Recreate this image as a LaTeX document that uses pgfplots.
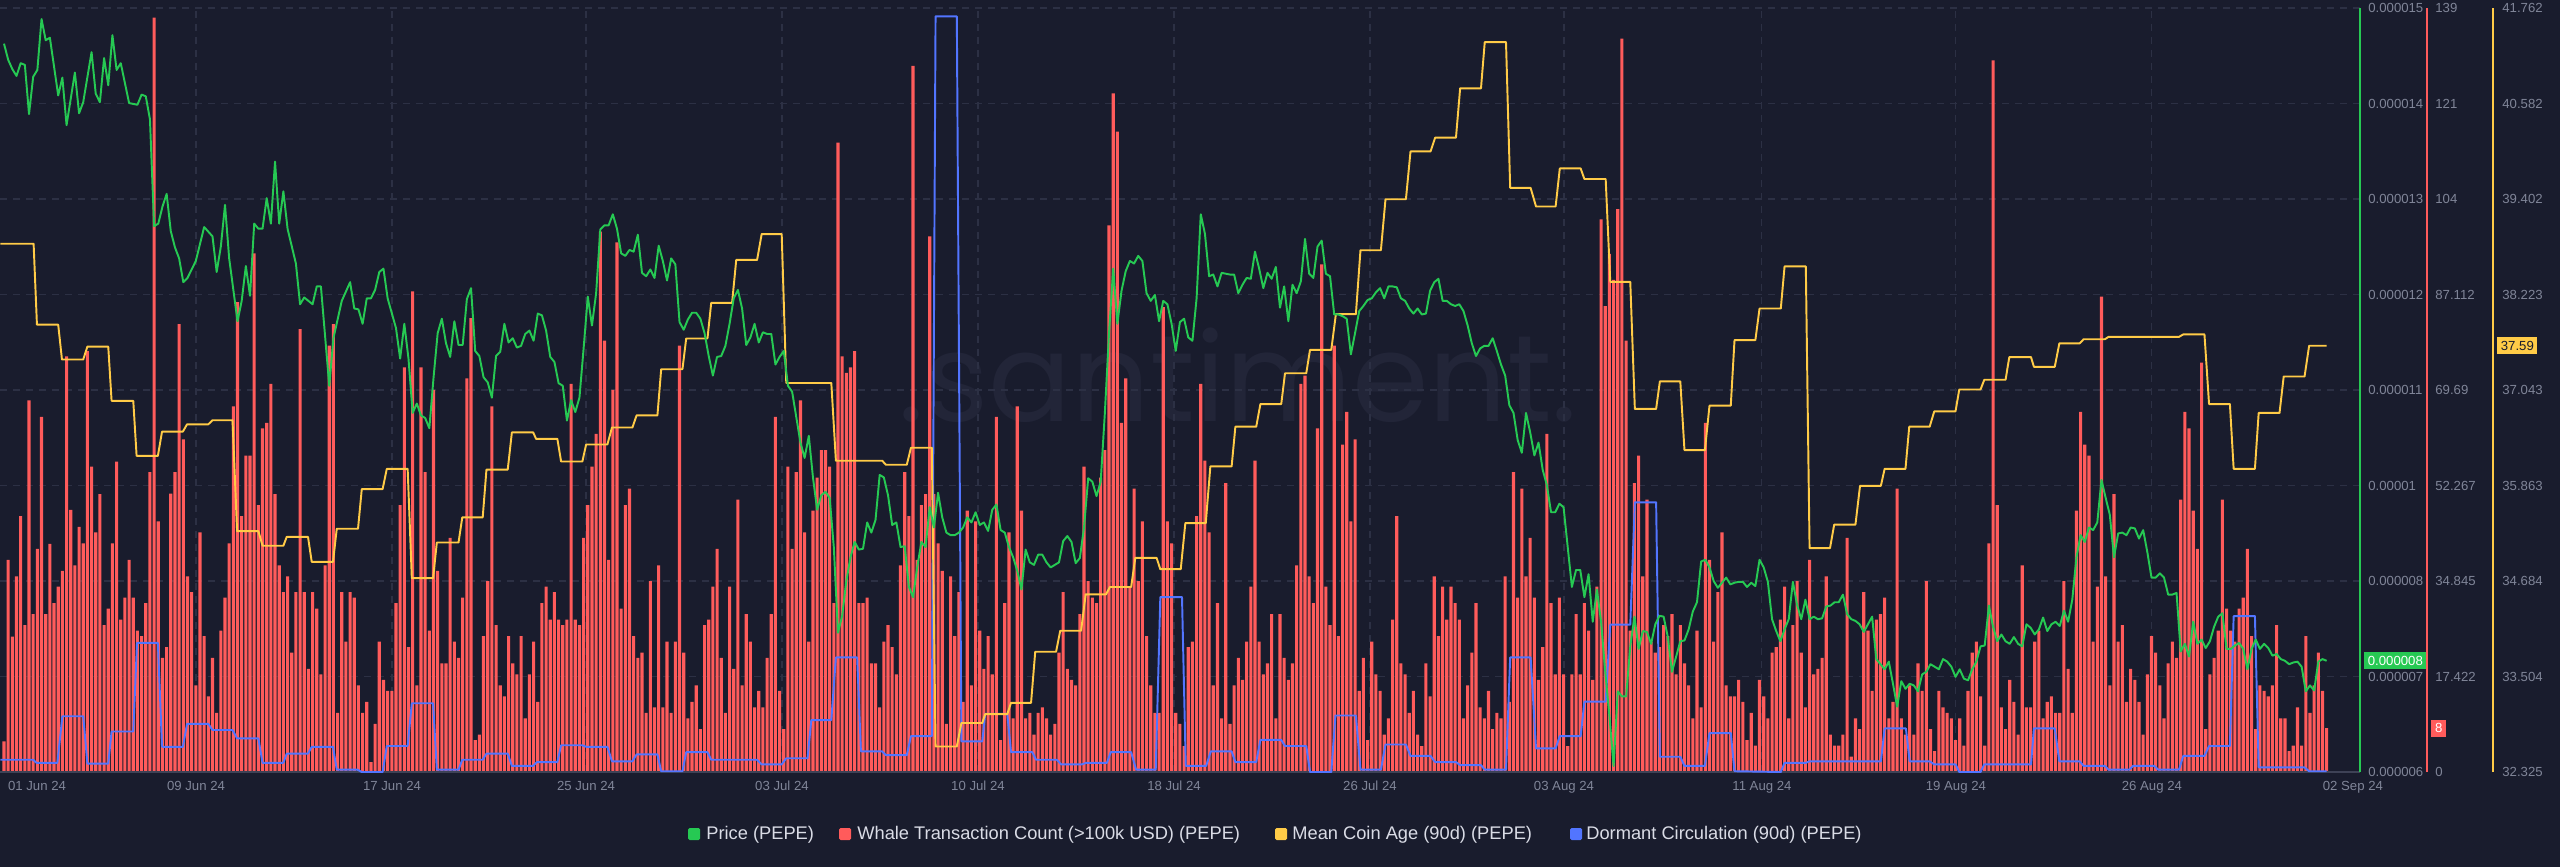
\documentclass[border=0pt]{standalone}
\usepackage{pgfplots}
\pgfplotsset{compat=1.18}
\usepackage{pgfplotstable}
\usepackage{fontspec}
\setmainfont{Liberation Sans}
\newfontfamily\wmfont{Poppins}
\newcommand\tickfont{\fontsize{7.5}{9}\selectfont}
\newcommand\legfont{\fontsize{10.4}{12}\selectfont}

\definecolor{bg}{RGB}{25,28,45}
\definecolor{gridc}{RGB}{44,48,68}
\definecolor{basec}{RGB}{62,66,86}
\definecolor{tickc}{RGB}{128,133,152}
\definecolor{legc}{RGB}{218,220,230}
\definecolor{wmc}{RGB}{34,37,56}
\definecolor{redc}{RGB}{255,91,91}
\definecolor{greenc}{RGB}{38,201,83}
\definecolor{yellowc}{RGB}{255,203,71}
\definecolor{bluec}{RGB}{82,117,255}

% whale transaction count, one bar per 4h, 01 Jun - 02 Sep
\pgfplotstableread[row sep=\\]{w\\
5.6\\ 38.7\\ 24.7\\ 35.7\\ 46.7\\ 26.8\\ 67.8\\ 28.8\\ 40.7\\ 64.8\\
28.8\\ 41.6\\ 30.8\\ 33.8\\ 36.7\\ 75.8\\ 47.8\\ 37.7\\ 44.7\\ 41.7\\
76.8\\ 55.7\\ 43.7\\ 50.7\\ 26.8\\ 29.8\\ 41.7\\ 56.6\\ 27.8\\ 31.8\\
38.7\\ 31.8\\ 25.8\\ 24.8\\ 30.8\\ 54.7\\ 137.6\\ 45.7\\ 20.8\\ 22.8\\
50.8\\ 54.7\\ 81.7\\ 60.7\\ 35.7\\ 32.8\\ 15.8\\ 43.7\\ 24.8\\ 13.8\\
20.8\\ 10.8\\ 25.8\\ 31.8\\ 41.7\\ 66.7\\ 85.7\\ 46.7\\ 57.7\\ 57.7\\
94.6\\ 48.7\\ 62.7\\ 63.7\\ 70.8\\ 50.7\\ 37.7\\ 32.8\\ 35.7\\ 21.8\\
32.8\\ 80.8\\ 32.8\\ 18.8\\ 32.8\\ 29.8\\ 17.8\\ 37.7\\ 77.8\\ 81.7\\
10.8\\ 32.8\\ 23.8\\ 32.8\\ 31.8\\ 15.8\\ 10.8\\ 12.8\\ 1.8\\ 8.8\\
23.8\\ 16.8\\ 14.8\\ 14.8\\ 30.8\\ 48.7\\ 73.8\\ 22.8\\ 87.7\\ 15.8\\
73.8\\ 54.7\\ 25.8\\ 69.7\\ 36.7\\ 19.8\\ 19.8\\ 42.7\\ 23.8\\ 20.8\\
31.8\\ 71.8\\ 82.8\\ 5.8\\ 6.8\\ 24.8\\ 34.8\\ 66.7\\ 26.8\\ 15.8\\
13.8\\ 24.8\\ 19.8\\ 17.8\\ 24.8\\ 9.8\\ 17.8\\ 23.8\\ 12.8\\ 30.8\\
33.8\\ 27.8\\ 32.8\\ 27.8\\ 26.8\\ 27.8\\ 70.8\\ 27.8\\ 26.8\\
42.7\\ 48.7\\ 55.7\\ 61.7\\ 98.6\\ 78.7\\ 38.7\\ 69.7\\ 96.6\\ 29.8\\ 48.7\\
51.7\\ 24.8\\ 20.8\\ 21.8\\ 10.8\\ 34.8\\ 11.8\\ 37.7\\ 11.8\\ 23.8\\
10.8\\ 23.8\\ 77.8\\ 21.8\\ 9.8\\ 12.8\\ 15.8\\ 7.8\\ 26.8\\ 27.8\\
33.8\\ 40.7\\ 20.8\\ 10.8\\ 33.8\\ 18.8\\ 49.7\\ 15.8\\ 28.8\\ 23.8\\
11.8\\ 14.8\\ 11.8\\ 20.8\\ 28.8\\ 64.8\\ 14.8\\ 7.8\\ 55.7\\ 40.7\\
54.7\\ 67.8\\ 43.7\\ 23.8\\ 47.7\\ 53.7\\ 58.7\\ 58.7\\ 55.7\\ 30.8\\
114.8\\ 75.8\\ 72.8\\ 73.8\\ 76.8\\ 30.8\\ 30.8\\ 31.8\\ 19.8\\ 19.8\\
11.8\\ 23.8\\ 26.8\\ 22.8\\ 17.8\\ 37.7\\ 54.7\\ 46.7\\ 128.8\\ 38.7\\
48.7\\ 50.7\\ 97.7\\ 50.7\\ 41.7\\ 36.7\\ 8.8\\ 35.7\\ 24.8\\ 32.8\\
12.8\\ 47.7\\ 15.8\\ 45.7\\ 25.8\\ 18.8\\ 24.8\\ 17.8\\ 64.8\\ 5.8\\
30.8\\ 43.7\\ 9.8\\ 66.7\\ 47.7\\ 9.8\\ 10.8\\ 6.8\\ 10.8\\ 11.8\\
9.8\\ 6.8\\ 8.8\\ 21.8\\ 32.8\\ 18.8\\ 16.8\\ 15.8\\ 28.8\\ 55.7\\
34.8\\ 31.8\\ 30.8\\ 53.7\\ 58.7\\ 99.7\\ 123.8\\ 116.8\\ 63.7\\ 71.8\\
33.8\\ 51.7\\ 34.8\\ 45.7\\ 24.8\\ 15.8\\ 10.8\\ 10.8\\
84.8\\ 45.7\\ 41.7\\ 10.8\\ 8.8\\ 4.7\\ 22.8\\ 23.8\\ 46.7\\ 70.8\\ 56.8\\ 43.7\\
15.8\\ 30.8\\ 9.8\\ 52.7\\ 8.8\\ 15.8\\ 20.8\\ 16.8\\ 23.8\\ 33.8\\
56.8\\ 23.8\\ 17.8\\ 19.8\\ 28.8\\ 9.8\\ 28.8\\ 20.8\\ 16.8\\ 19.8\\
37.7\\ 70.8\\ 72.3\\ 35.7\\ 30.8\\ 62.7\\ 92.6\\ 33.8\\ 26.8\\ 77.8\\
24.8\\ 59.7\\ 65.7\\ 45.7\\ 60.7\\ 14.8\\ 20.8\\ 5.8\\ 23.8\\ 17.8\\
14.8\\ 6.8\\ 9.8\\ 27.8\\ 46.7\\ 19.8\\ 17.8\\ 10.8\\ 14.8\\ 6.8\\
4.7\\ 19.8\\ 13.8\\ 35.7\\ 24.8\\ 33.8\\ 27.8\\ 33.8\\ 30.8\\ 27.8\\
9.8\\ 15.8\\ 21.8\\ 30.8\\ 11.8\\ 9.8\\ 14.8\\ 7.8\\ 10.8\\ 9.8\\
35.7\\ 12.8\\ 54.7\\ 31.8\\ 51.7\\ 35.7\\ 42.7\\ 31.8\\ 16.8\\ 22.8\\
61.7\\ 30.8\\ 17.8\\ 31.8\\ 17.8\\ 4.7\\ 17.8\\ 28.8\\ 17.8\\ 30.8\\
25.8\\ 16.8\\ 33.8\\ 100.8\\ 85\\ 94.5\\ 89.8\\ 102.7\\ 133.8\\ 78.7\\
25.8\\ 52.7\\ 57.7\\ 35.7\\ 49.7\\ 23.8\\ 21.8\\ 22.8\\ 26.8\\ 24.8\\
28.8\\ 17.8\\ 26.8\\ 19.8\\ 15.8\\ 9.8\\ 25.8\\ 11.8\\ 63.7\\ 38.7\\
23.8\\ 32.8\\ 43.7\\ 15.8\\ 13.8\\ 13.8\\
16.8\\ 12.8\\ 5.8\\ 10.8\\ 4.8\\ 16.8\\ 13.8\\ 9.8\\ 21.8\\ 22.8\\
27.8\\ 33.8\\ 9.8\\ 26.8\\ 34.8\\ 21.8\\ 11.8\\ 38.7\\ 17.8\\ 18.8\\
20.8\\ 35.7\\ 6.8\\ 4.8\\ 4.8\\ 6.8\\ 42.7\\ 2.8\\ 9.8\\ 7.8\\
32.8\\ 25.8\\ 14.8\\ 27.8\\ 28.8\\ 31.8\\ 9.8\\ 12.8\\ 51.7\\ 9.8\\
6.8\\ 15.8\\ 6.8\\ 19.8\\ 14.8\\ 34.8\\ 7.8\\ 3.8\\ 14.8\\ 11.8\\
10.8\\ 9.8\\ 5.8\\ 9.8\\ 4.8\\ 14.8\\ 21.8\\ 23.8\\ 13.8\\ 4.8\\
41.7\\ 129.8\\ 48.7\\ 11.8\\ 7.8\\ 16.8\\ 12.8\\ 6.8\\ 37.7\\ 11.8\\
11.8\\ 23.8\\ 25.8\\ 9.8\\ 12.8\\ 13.8\\ 10.8\\ 10.8\\ 34.8\\ 18.8\\
10.8\\ 47.7\\ 65.7\\ 59.7\\ 57.7\\ 23.8\\ 33.8\\ 86.7\\ 35.7\\ 15.8\\
50.7\\ 23.8\\ 26.8\\ 12.8\\ 18.8\\ 16.8\\ 12.8\\ 6.8\\ 17.8\\ 24.8\\
21.8\\ 15.8\\ 9.8\\ 19.8\\ 23.8\\ 20.8\\ 49.7\\ 65.7\\ 62.7\\ 47.7\\
40.7\\ 74.7\\ 7.8\\ 17.8\\ 20.8\\ 25.8\\ 49.7\\ 29.8\\ 25.8\\ 23.8\\
29.8\\ 31.8\\ 40.7\\ 24.8\\ 7.8\\ 15.8\\ 14.8\\ 13.8\\ 15.8\\ 26.8\\
9.8\\ 9.8\\ 3.8\\ 4.8\\ 11.8\\ 4.8\\ 24.8\\ 10.8\\ 15.8\\ 21.8\\ 14.8\\ 8\\
}\whale

% price in units of 1e-6 USD, x = 4h step index
\pgfplotstableread[row sep=\\]{i p\\
0 14.58\\ 1 14.39\\ 2 14.28\\ 3 14.20\\ 4 14.35\\ 5 14.33\\ 6 13.75\\ 7 14.19\\ 8 14.27\\ 9 14.87\\
10 14.62\\ 11 14.65\\ 13 13.97\\ 14 14.18\\ 15 13.62\\ 17 14.24\\ 18 13.76\\ 19 13.89\\ 21 14.48\\
22 13.99\\ 23 13.89\\ 24 14.41\\ 25 14.09\\ 26 14.68\\ 27 14.27\\ 28 14.35\\ 30 13.88\\ 32 13.86\\
33 13.98\\ 34 13.96\\ 35 13.69\\ 36 12.43\\ 37 12.46\\ 38 12.66\\ 39 12.81\\ 40 12.37\\ 41 12.18\\
42 12.05\\ 43 11.77\\ 44 11.82\\ 46 12.02\\ 48 12.42\\ 50 12.31\\ 51 11.89\\ 52 12.19\\ 53 12.68\\
54 12.05\\ 56 11.31\\ 57 11.55\\ 58 11.96\\ 59 11.61\\ 60 12.46\\ 61 12.40\\ 62 12.40\\ 63 12.76\\
64 12.46\\ 65 13.19\\ 66 12.46\\ 67 12.84\\ 68 12.40\\ 70 11.99\\ 71 11.51\\ 72 11.59\\ 74 11.51\\
75 11.72\\ 76 11.72\\ 78 10.55\\ 79 11.11\\ 81 11.55\\ 83 11.77\\ 84 11.46\\ 85 11.45\\ 86 11.28\\
87 11.58\\ 88 11.58\\ 89 11.68\\ 90 11.89\\ 91 11.93\\ 92 11.58\\ 94 11.23\\ 95 10.87\\ 96 11.28\\
97 10.87\\ 98 10.23\\ 99 10.34\\ 100 10.20\\ 101 10.17\\ 102 10.05\\ 103 10.64\\ 104 11.17\\
105 11.34\\ 106 11.05\\ 107 10.89\\ 108 11.31\\ 109 11.03\\ 110 11.03\\ 111 11.57\\ 112 11.70\\
113 10.96\\ 114 10.90\\ 115 10.65\\ 116 10.59\\ 117 10.41\\ 118 10.90\\ 119 10.95\\ 120 11.28\\
121 11.06\\ 122 11.11\\ 123 11.00\\ 124 11.02\\ 125 11.16\\ 126 11.20\\ 127 11.08\\ 128 11.40\\
129 11.38\\ 130 11.20\\ 131 10.89\\ 132 10.83\\ 133 10.58\\ 134 10.55\\ 135 10.14\\ 136 10.38\\
137 10.24\\ 138 10.41\\ 139 10.99\\ 140 11.60\\ 141 11.26\\ 142 11.64\\ 143 12.39\\ 144 12.44\\
145 12.44\\ 146 12.57\\ 147 12.40\\ 148 12.11\\ 149 12.08\\ 150 12.15\\ 151 12.13\\ 152 12.33\\
153 11.88\\ 154 11.84\\ 155 11.92\\ 156 11.82\\ 157 12.20\\ 158 12.02\\ 159 11.79\\ 160 12.05\\
161 11.98\\ 162 11.30\\ 163 11.21\\ 164 11.33\\ 165 11.41\\ 166 11.41\\ 167 11.34\\ 168 11.17\\
169 10.90\\ 170 10.67\\ 171 10.89\\ 172 10.90\\ 173 11.02\\ 174 11.28\\ 175 11.58\\ 176 11.68\\
177 11.46\\ 178 11.03\\ 179 11.12\\ 180 11.28\\ 181 11.06\\ 182 11.18\\ 183 11.16\\ 184 11.16\\
185 10.80\\ 186 10.89\\ 187 10.96\\ 188 10.55\\ 189 10.48\\ 190 10.18\\ 191 9.88\\ 192 9.70\\
193 9.96\\ 194 9.47\\ 195 9.09\\ 196 9.26\\ 197 9.30\\ 198 9.23\\ 199 8.65\\ 200 7.64\\ 201 7.84\\
202 8.25\\ 203 8.53\\ 204 8.71\\ 205 8.62\\ 206 8.63\\ 207 8.94\\ 208 8.82\\ 209 8.97\\ 210 9.50\\
211 9.47\\ 212 9.26\\ 213 8.91\\ 214 8.94\\ 215 8.65\\ 216 8.66\\ 217 8.18\\ 218 8.06\\ 219 8.41\\
220 8.71\\ 221 8.65\\ 222 9.12\\ 223 8.88\\ 224 9.29\\ 225 9.00\\ 226 8.82\\ 227 8.79\\ 228 8.79\\
229 8.82\\ 230 8.88\\ 231 9.00\\ 232 8.94\\ 233 9.06\\ 234 8.91\\ 235 8.94\\ 236 8.84\\ 237 9.09\\
238 9.15\\ 239 8.85\\ 240 8.82\\ 241 8.65\\ 242 8.53\\ 243 8.37\\ 244 8.15\\ 245 8.62\\ 246 8.47\\
247 8.44\\ 248 8.56\\ 249 8.56\\ 250 8.47\\ 251 8.41\\ 252 8.44\\ 253 8.47\\ 254 8.72\\ 255 8.78\\
256 8.71\\ 257 8.46\\ 258 8.52\\ 259 8.88\\ 260 9.46\\ 261 9.42\\ 262 9.25\\ 263 9.42\\ 264 10.23\\
265 11.17\\ 266 11.93\\ 267 11.28\\ 268 11.67\\ 269 11.90\\ 270 12.02\\ 271 11.99\\ 272 12.08\\
273 12.02\\ 274 11.64\\ 275 11.55\\ 276 11.62\\ 277 11.31\\ 278 11.55\\ 279 11.51\\ 280 11.28\\
281 10.96\\ 282 11.30\\ 283 11.34\\ 284 11.12\\ 285 11.08\\ 286 11.58\\ 287 12.57\\ 288 12.34\\
289 11.84\\ 290 11.86\\ 291 11.72\\ 292 11.88\\ 293 11.87\\ 294 11.86\\ 295 11.86\\ 296 11.64\\
297 11.74\\ 298 11.82\\ 299 11.81\\ 300 12.13\\ 301 11.93\\ 302 11.70\\ 303 11.88\\ 304 11.81\\
305 11.95\\ 306 11.47\\ 307 11.72\\ 308 11.31\\ 309 11.74\\ 310 11.64\\ 311 11.78\\ 312 12.28\\
313 11.87\\ 314 11.82\\ 315 12.19\\ 316 12.26\\ 317 11.87\\ 318 11.84\\ 319 11.39\\ 320 11.39\\
321 11.37\\ 322 11.34\\ 323 10.92\\ 324 11.17\\ 325 11.43\\ 326 11.49\\ 327 11.56\\ 328 11.58\\
329 11.65\\ 330 11.70\\ 331 11.58\\ 332 11.72\\ 333 11.72\\ 334 11.71\\ 335 11.58\\ 336 11.55\\
337 11.46\\ 338 11.40\\ 339 11.46\\ 340 11.39\\ 341 11.40\\ 342 11.67\\ 343 11.77\\ 344 11.81\\
345 11.55\\ 346 11.55\\ 347 11.51\\ 348 11.49\\ 349 11.51\\ 350 11.43\\ 351 11.26\\ 352 11.05\\
353 10.90\\ 354 10.99\\ 355 11.02\\ 356 11.02\\ 357 11.11\\ 358 10.96\\ 359 10.80\\ 360 10.67\\
361 10.32\\ 362 10.23\\ 363 9.91\\ 364 9.76\\ 365 10.23\\ 366 10.00\\ 367 9.73\\ 368 9.88\\
369 9.56\\ 370 9.38\\ 371 9.06\\ 372 9.06\\ 373 9.16\\ 374 9.12\\ 375 8.65\\ 376 8.18\\ 377 8.38\\
378 8.38\\ 379 8.06\\ 380 8.33\\ 381 7.77\\ 382 8.15\\ 383 7.77\\ 384 7.18\\ 385 6.66\\ 386 6.07\\
387 6.95\\ 388 6.89\\ 389 6.89\\ 390 7.48\\ 391 7.83\\ 392 7.45\\ 393 7.66\\ 394 7.65\\ 395 7.51\\
396 7.74\\ 397 7.84\\ 398 7.83\\ 399 7.59\\ 400 7.18\\ 401 7.36\\ 402 7.54\\ 403 7.55\\ 404 7.68\\
405 7.89\\ 406 8.00\\ 407 8.48\\ 408 8.50\\ 409 8.41\\ 410 8.25\\ 411 8.17\\ 412 8.23\\ 413 8.29\\
414 8.21\\ 415 8.23\\ 416 8.24\\ 417 8.24\\ 418 8.18\\ 419 8.23\\ 420 8.19\\ 421 8.50\\ 422 8.41\\
423 8.24\\ 424 7.80\\ 425 7.66\\ 426 7.54\\ 427 7.68\\ 428 7.80\\ 429 8.24\\ 430 7.97\\ 431 7.80\\
432 8.03\\ 433 7.80\\ 434 7.83\\ 435 7.80\\ 436 7.81\\ 437 7.95\\ 438 7.96\\ 439 8.00\\ 440 8.00\\
441 8.09\\ 442 7.86\\ 443 7.80\\ 444 7.78\\ 445 7.74\\ 446 7.65\\ 447 7.74\\ 448 7.83\\ 449 7.33\\
450 7.27\\ 451 7.21\\ 452 7.30\\ 453 7.04\\ 454 6.77\\ 455 7.07\\ 456 6.98\\ 457 7.04\\ 458 7.02\\
459 6.95\\ 460 7.15\\ 461 7.18\\ 462 7.27\\ 463 7.24\\ 464 7.21\\ 465 7.33\\ 466 7.30\\ 467 7.24\\
468 7.12\\ 469 7.21\\ 470 7.10\\ 471 7.08\\ 472 7.21\\ 473 7.30\\ 474 7.48\\ 475 7.49\\ 476 7.96\\
477 7.71\\ 478 7.54\\ 479 7.62\\ 480 7.54\\ 481 7.51\\ 482 7.59\\ 483 7.51\\ 484 7.48\\ 485 7.74\\
486 7.70\\ 487 7.62\\ 488 7.68\\ 489 7.82\\ 490 7.66\\ 491 7.74\\ 492 7.77\\ 493 7.72\\ 494 7.90\\
495 7.77\\ 496 8.03\\ 497 8.53\\ 498 8.79\\ 499 8.71\\ 500 8.88\\ 501 8.85\\ 502 8.94\\ 503 9.44\\
504 9.23\\ 505 9.03\\ 506 8.53\\ 507 8.81\\ 508 8.82\\ 509 8.79\\ 510 8.88\\ 511 8.87\\ 512 8.75\\
513 8.85\\ 514 8.59\\ 515 8.29\\ 516 8.29\\ 517 8.34\\ 518 8.29\\ 519 8.09\\ 520 8.09\\ 521 8.11\\
522 7.42\\ 523 7.51\\ 524 7.36\\ 525 7.77\\ 526 7.51\\ 527 7.56\\ 528 7.46\\ 529 7.54\\ 530 7.71\\
531 7.83\\ 532 7.87\\ 533 7.45\\ 534 7.45\\ 535 7.49\\ 536 7.52\\ 537 7.45\\ 538 7.21\\ 539 7.45\\
540 7.56\\ 541 7.45\\ 542 7.51\\ 543 7.46\\ 544 7.37\\ 545 7.39\\ 546 7.33\\ 547 7.31\\ 548 7.27\\
549 7.29\\ 550 7.30\\ 551 7.24\\ 552 6.95\\ 553 7.02\\ 554 6.96\\ 555 7.30\\ 556 7.33\\ 557 7.31\\
}\price

% mean coin age (90d), step vertices
\pgfplotstableread[row sep=\\]{i a\\
-0.9 38.85\\ 7.1 38.85\\ 7.9 37.85\\ 13 37.85\\ 13.9 37.42\\ 19 37.42\\ 20 37.58\\ 25 37.58\\
25.8 36.91\\ 31 36.91\\ 31.8 36.23\\ 36.9 36.23\\ 37.9 36.53\\ 42.9 36.53\\ 43.9 36.62\\ 49 36.62\\
50 36.67\\ 54.8 36.67\\ 55.9 35.30\\ 61 35.30\\ 62 35.12\\ 67 35.12\\ 67.8 35.23\\ 72.9 35.23\\
73.8 34.92\\ 78.9 34.92\\ 79.8 35.33\\ 84.9 35.33\\ 85.8 35.82\\ 90.8 35.82\\ 91.8 36.07\\ 96.8 36.07\\
97.8 34.72\\ 102.9 34.72\\ 103.8 35.16\\ 109 35.16\\ 109.9 35.47\\ 114.8 35.47\\ 115.7 36.06\\
120.8 36.06\\ 121.8 36.52\\ 126.9 36.52\\ 127.6 36.44\\ 132.7 36.44\\ 133.6 36.16\\ 138.7 36.16\\
139.6 36.37\\ 144.7 36.37\\ 145.8 36.58\\ 150.7 36.58\\ 151.7 36.73\\ 156.7 36.73\\ 157.6 37.30\\
162.7 37.30\\ 163.6 37.68\\ 168.7 37.68\\ 169.6 38.12\\ 174.6 38.12\\ 175.6 38.65\\ 180.6 38.65\\
181.7 38.97\\ 186.5 38.97\\ 187.6 37.13\\ 198.4 37.13\\ 199.5 36.17\\ 210.6 36.17\\ 211.5 36.12\\
216.5 36.12\\ 217.5 36.33\\ 222.5 36.33\\ 223.4 32.64\\ 228.5 32.64\\ 229.6 32.93\\ 234.6 32.93\\
235.3 33.04\\ 240.6 33.04\\ 241.5 33.18\\ 246.3 33.18\\ 247.3 33.81\\ 252.3 33.81\\ 253.3 34.07\\
258.3 34.07\\ 259.4 34.52\\ 264.3 34.52\\ 265.2 34.61\\ 270.3 34.61\\ 271.3 34.97\\ 276.4 34.97\\
277.3 34.83\\ 282.2 34.83\\ 283.3 35.40\\ 288.2 35.40\\ 289.3 36.10\\ 294.4 36.10\\ 295.3 36.59\\
300.3 36.59\\ 301.3 36.87\\ 306.3 36.87\\ 307.2 37.25\\ 312.3 37.25\\ 313.2 37.54\\ 318.3 37.54\\
319.4 37.98\\ 324.2 37.98\\ 325.3 38.77\\ 330.2 38.77\\ 331.3 39.40\\ 336.2 39.40\\ 337.3 39.99\\
342.1 39.99\\ 343.2 40.16\\ 348.2 40.16\\ 349.2 40.77\\ 354.2 40.77\\ 355.1 41.34\\ 360.2 41.34\\
361.2 39.54\\ 366.1 39.54\\ 367.4 39.31\\ 372.1 39.31\\ 373.1 39.78\\ 378.1 39.78\\ 379 39.65\\
384.1 39.65\\ 385.2 38.38\\ 390 38.38\\ 391.1 36.81\\ 396.2 36.81\\ 397.1 37.15\\ 402 37.15\\
403 36.30\\ 407.9 36.30\\ 409 36.85\\ 414.1 36.85\\ 415 37.66\\ 420 37.66\\ 421 38.05\\ 426.1 38.05\\
427 38.57\\ 432.1 38.57\\ 433 35.09\\ 437.9 35.09\\ 438.9 35.38\\ 444 35.38\\ 445.1 35.86\\
450.1 35.86\\ 451 36.07\\ 456 36.07\\ 456.9 36.59\\ 461.8 36.59\\ 462.9 36.78\\ 468 36.78\\
468.9 37.05\\ 474 37.05\\ 474.9 37.17\\ 480 37.17\\ 480.9 37.45\\ 486.1 37.45\\ 486.8 37.33\\
491.8 37.33\\ 492.9 37.62\\ 497.8 37.62\\ 498.7 37.67\\ 503.8 37.67\\ 504.7 37.70\\ 521.6 37.70\\
522.6 37.73\\ 527.7 37.73\\ 528.8 36.87\\ 533.8 36.87\\ 534.7 36.07\\ 539.8 36.07\\ 540.7 36.76\\
545.7 36.76\\ 546.7 37.21\\ 551.7 37.21\\ 552.8 37.59\\ 557 37.59\\
}\coinage

% dormant circulation (90d), relative units, step vertices
\pgfplotstableread[row sep=\\]{i d\\
-0.9 1.6\\ 7 1.6\\ 7.8 1.2\\ 12.8 1.2\\ 14 7.3\\ 19 7.3\\ 20 1.1\\ 25 1.1\\ 25.8 5.3\\ 31 5.3\\
31.9 16.9\\ 36.9 16.9\\ 37.9 3.3\\ 42.9 3.3\\ 43.9 6.3\\ 49 6.3\\ 50 5.5\\ 54.8 5.5\\ 55.9 4.4\\
61 4.4\\ 62 1.2\\ 67 1.2\\ 67.8 2.4\\ 72.9 2.4\\ 73.8 3.3\\ 78.9 3.3\\ 79.8 0.3\\ 84.8 0.3\\
85.8 0\\ 90.8 0\\ 91.8 3.4\\ 96.8 3.4\\ 97.8 9.0\\ 102.9 9.0\\ 103.8 0.3\\ 109 0.3\\ 109.9 1.6\\
114.8 1.6\\ 115.7 2.4\\ 120.8 2.4\\ 121.8 0.8\\ 126.9 0.8\\ 127.8 1.3\\ 132.7 1.3\\ 133.6 3.5\\
138.7 3.5\\ 139.6 3.3\\ 144.7 3.3\\ 145.8 1.4\\ 150.7 1.4\\ 151.7 2.3\\ 156.7 2.3\\ 157.6 0.1\\
162.7 0.1\\ 163.6 2.6\\ 168.7 2.6\\ 169.6 1.6\\ 180.6 1.6\\ 181.7 1.0\\ 186.5 1.0\\ 187.6 1.8\\
192.7 1.8\\ 193.6 6.8\\ 198.4 6.8\\ 199.5 15.0\\ 204.6 15.0\\ 205.5 2.7\\ 210.6 2.7\\ 211.5 2.2\\
216.5 2.2\\ 217.5 4.7\\ 222.5 4.7\\ 223.4 98.9\\ 228.5 98.9\\ 229.6 4.0\\ 234.6 4.0\\ 235.3 7.6\\
240.6 7.6\\ 241.5 2.6\\ 246.6 2.6\\ 247.5 1.6\\ 252.5 1.6\\ 253.5 1.0\\ 258.5 1.0\\ 259.5 1.2\\
264.5 1.2\\ 265.4 2.6\\ 270.3 2.6\\ 271.5 0.3\\ 276.2 0.3\\ 277.3 22.9\\ 282.5 22.9\\ 283.4 0.8\\
288.3 0.8\\ 289.4 2.7\\ 294.4 2.7\\ 295.3 1.3\\ 300.3 1.3\\ 301.3 4.2\\ 306.3 4.2\\ 307.2 3.4\\
312.3 3.4\\ 313.2 0\\ 318.3 0\\ 319.3 7.4\\ 324.2 7.4\\ 325.3 0.3\\ 330.2 0.3\\ 331.3 3.6\\
336.2 3.6\\ 337.3 2.1\\ 342.1 2.1\\ 343.2 1.3\\ 348.2 1.3\\ 349.2 0.9\\ 354.2 0.9\\ 355.1 0.3\\
360.2 0.3\\ 361.2 15.0\\ 366.1 15.0\\ 367.4 3.1\\ 372.1 3.1\\ 373.1 4.7\\ 378.1 4.7\\ 379 9.2\\
384.1 9.2\\ 385.2 19.3\\ 390 19.3\\ 391.1 35.3\\ 396.2 35.3\\ 397.1 2.0\\ 402 2.0\\ 403 0.8\\
407.9 0.8\\ 409 5.1\\ 414.1 5.1\\ 415 0.1\\ 426.1 0\\ 427 1.2\\ 432.1 1.2\\ 433 1.4\\ 450.1 1.4\\
451 5.7\\ 456.1 5.7\\ 457 1.4\\ 461.8 1.4\\ 462.9 1.0\\ 468 1.0\\ 468.9 0\\ 474 0\\ 474.9 1.0\\
486.1 1.0\\ 486.8 5.7\\ 491.8 5.7\\ 492.9 1.4\\ 497.8 1.4\\ 498.7 0.8\\ 503.8 0.8\\ 504.7 0.3\\
509.7 0.3\\ 510.6 0.8\\ 515.7 0.8\\ 516.6 0.3\\ 521.6 0.3\\ 522.6 2.1\\ 527.7 2.1\\ 528.8 3.4\\
533.8 3.4\\ 534.7 20.4\\ 539.8 20.4\\ 540.7 0.6\\ 551.7 0.6\\ 552.8 0.1\\ 557 0.1\\
}\dormant

\pgfplotsset{
  base/.style={at={(0,0)},anchor=south west,scale only axis,
    width=47.2cm,height=15.28cm,xmin=-0.96,xmax=565,
    axis line style={draw=none},major tick length=0pt,tick align=inside,
    clip mode=individual,
    ticklabel style={font=\tickfont,text=tickc,inner sep=0pt},
    ytick pos=right,yticklabel pos=right,
    yticklabel style={anchor=west}},
  hidex/.style={xtick=\empty},
}
\tikzset{badge/.style={anchor=west,font=\tickfont,inner xsep=0.07cm,inner ysep=0pt,
    minimum height=0.34cm}}

\begin{document}
\begin{tikzpicture}
\useasboundingbox (0,-1.9) rectangle (51.2,15.44);
\fill[bg] (0,-1.9) rectangle (51.2,15.44);
\node[anchor=base west,inner sep=0pt,text=wmc,font={\wmfont\fontsize{70}{80}\selectfont}]
  at (17.96,7.0) {.santiment.};

% whale transactions: grid, dates, red bars
\begin{axis}[base,ymin=0,ymax=139.376,
  ytick={0,17.422,34.845,52.267,69.69,87.112,104.534,121.956,139.376},
  yticklabels={0,17.422,34.845,52.267,69.69,87.112,104,121,139},
  yticklabel style={xshift=1.5cm},
  xtick={46.04,93.05,139.57,186.57,233.57,280.58,327.58,374.1,421.58,468.1,515.1},
  xticklabels={09 Jun 24,17 Jun 24,25 Jun 24,03 Jul 24,10 Jul 24,18 Jul 24,26 Jul 24,03 Aug 24,11 Aug 24,19 Aug 24,26 Aug 24},
  extra x ticks={7.91,563.3},extra x tick labels={01 Jun 24,02 Sep 24},
  extra x tick style={grid=none},
  xticklabel style={anchor=north,yshift=-0.18cm},
  grid=major,major grid style={gridc,line width=0.6pt,dash pattern=on 0.14cm off 0.12cm}]
\addplot[ybar,bar width=0.062cm,fill=redc,draw=none] table[x expr=\coordindex,y=w] {\whale};
\draw[basec,line width=0.8pt] (rel axis cs:0,0) -- (rel axis cs:1,0);
\draw[redc,line width=0.9pt] ([xshift=1.34cm]rel axis cs:1,0) -- ([xshift=1.34cm]rel axis cs:1,1);
\node[badge,fill=redc,text=white,minimum width=0.3cm,inner xsep=0pt,xshift=1.42cm]
  at ({rel axis cs:1,0}|-{axis cs:0,8}) {8};
\end{axis}

% dormant circulation (no scale shown)
\begin{axis}[base,hidex,ymin=0,ymax=100,ytick=\empty]
\addplot[bluec,line width=1.1pt,line join=round] table[x=i,y=d] {\dormant};
\end{axis}

% mean coin age
\begin{axis}[base,hidex,ymin=32.325,ymax=41.762,
  ytick={32.325,33.504,34.684,35.863,37.043,38.223,39.402,40.582,41.762},
  yticklabels={32.325,33.504,34.684,35.863,37.043,38.223,39.402,40.582,41.762},
  yticklabel style={xshift=2.84cm}]
\addplot[yellowc,line width=1.1pt,line join=round] table[x=i,y=a] {\coinage};
\draw[yellowc,line width=0.9pt] ([xshift=2.66cm]rel axis cs:1,0) -- ([xshift=2.66cm]rel axis cs:1,1);
\node[badge,fill=yellowc,text=bg,xshift=2.74cm] at ({rel axis cs:1,0}|-{axis cs:0,37.59}) {37.59};
\end{axis}

% price
\begin{axis}[base,hidex,ymin=6,ymax=15,
  ytick={6,7.125,8.25,9.375,10.5,11.625,12.75,13.875,15},
  yticklabels={0.000006,0.000007,0.000008,0.00001,0.000011,0.000012,0.000013,0.000014,0.000015},
  yticklabel style={xshift=0.16cm}]
\addplot[greenc,line width=1.1pt,line join=round] table[x=i,y=p] {\price};
\draw[greenc,line width=0.9pt] (rel axis cs:1,0) -- (rel axis cs:1,1);
\node[badge,fill=greenc,text=white,xshift=0.08cm] at ({rel axis cs:1,0}|-{axis cs:0,7.31}) {0.000008};
\end{axis}

% legend
\fill[greenc,rounded corners=0.03cm] (13.76,-1.36) rectangle (14.0,-1.12);
\node[anchor=west,inner sep=0pt,font=\legfont,text=legc] at (14.12,-1.25) {Price (PEPE)};
\fill[redc,rounded corners=0.03cm] (16.78,-1.36) rectangle (17.02,-1.12);
\node[anchor=west,inner sep=0pt,font=\legfont,text=legc] at (17.14,-1.25) {Whale Transaction Count (>100k USD) (PEPE)};
\fill[yellowc,rounded corners=0.03cm] (25.5,-1.36) rectangle (25.74,-1.12);
\node[anchor=west,inner sep=0pt,font=\legfont,text=legc] at (25.84,-1.25) {Mean Coin Age (90d) (PEPE)};
\fill[bluec,rounded corners=0.03cm] (31.4,-1.36) rectangle (31.64,-1.12);
\node[anchor=west,inner sep=0pt,font=\legfont,text=legc] at (31.72,-1.25) {Dormant Circulation (90d) (PEPE)};
\end{tikzpicture}
\end{document}
